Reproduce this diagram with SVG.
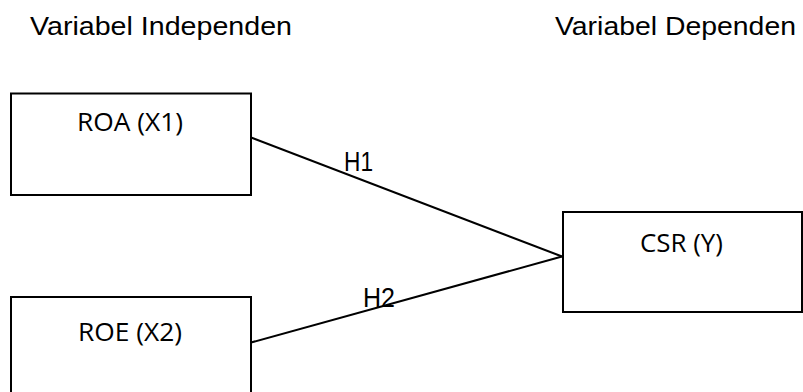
<svg xmlns="http://www.w3.org/2000/svg" width="803" height="392" viewBox="0 0 803 392">
<style>
.box{fill:#fff;stroke:#000;stroke-width:2}
.lbl{font-family:"Open Sans","Liberation Sans",sans-serif;font-size:26px;fill:#000;text-anchor:middle}
.hdr{font-family:"Liberation Sans",Arial,sans-serif;font-size:26px;fill:#000}
.h{font-family:"Liberation Sans",Arial,sans-serif;font-size:27px;fill:#000}
.con{stroke:#000;stroke-width:2;fill:none}
</style>
<rect width="803" height="392" fill="#fff"/>
<text class="hdr" x="30" y="35" textLength="262" lengthAdjust="spacingAndGlyphs">Variabel Independen</text>
<text class="hdr" x="555" y="35" textLength="241" lengthAdjust="spacingAndGlyphs">Variabel Dependen</text>
<g id="connectors">
<line class="con" x1="251" y1="137.5" x2="562" y2="256.5"/>
<line class="con" x1="251" y1="342.5" x2="562" y2="256.5"/>
<text class="h" x="344" y="171" textLength="29" lengthAdjust="spacingAndGlyphs">H1</text>
<text class="h" x="363" y="306.5" textLength="32" lengthAdjust="spacingAndGlyphs">H2</text>
</g>
<g id="roa">
<rect class="box" x="11" y="93.5" width="240" height="101.5"/>
<text class="lbl" x="130" y="130.5" textLength="106" lengthAdjust="spacingAndGlyphs">ROA (X1)</text>
</g>
<g id="roe">
<rect class="box" x="11" y="297" width="240" height="100"/>
<text class="lbl" x="130" y="341" textLength="104" lengthAdjust="spacingAndGlyphs">ROE (X2)</text>
</g>
<g id="csr">
<rect class="box" x="563" y="212" width="239" height="100"/>
<text class="lbl" x="681.5" y="251.5" textLength="83" lengthAdjust="spacingAndGlyphs">CSR (Y)</text>
</g>
</svg>
